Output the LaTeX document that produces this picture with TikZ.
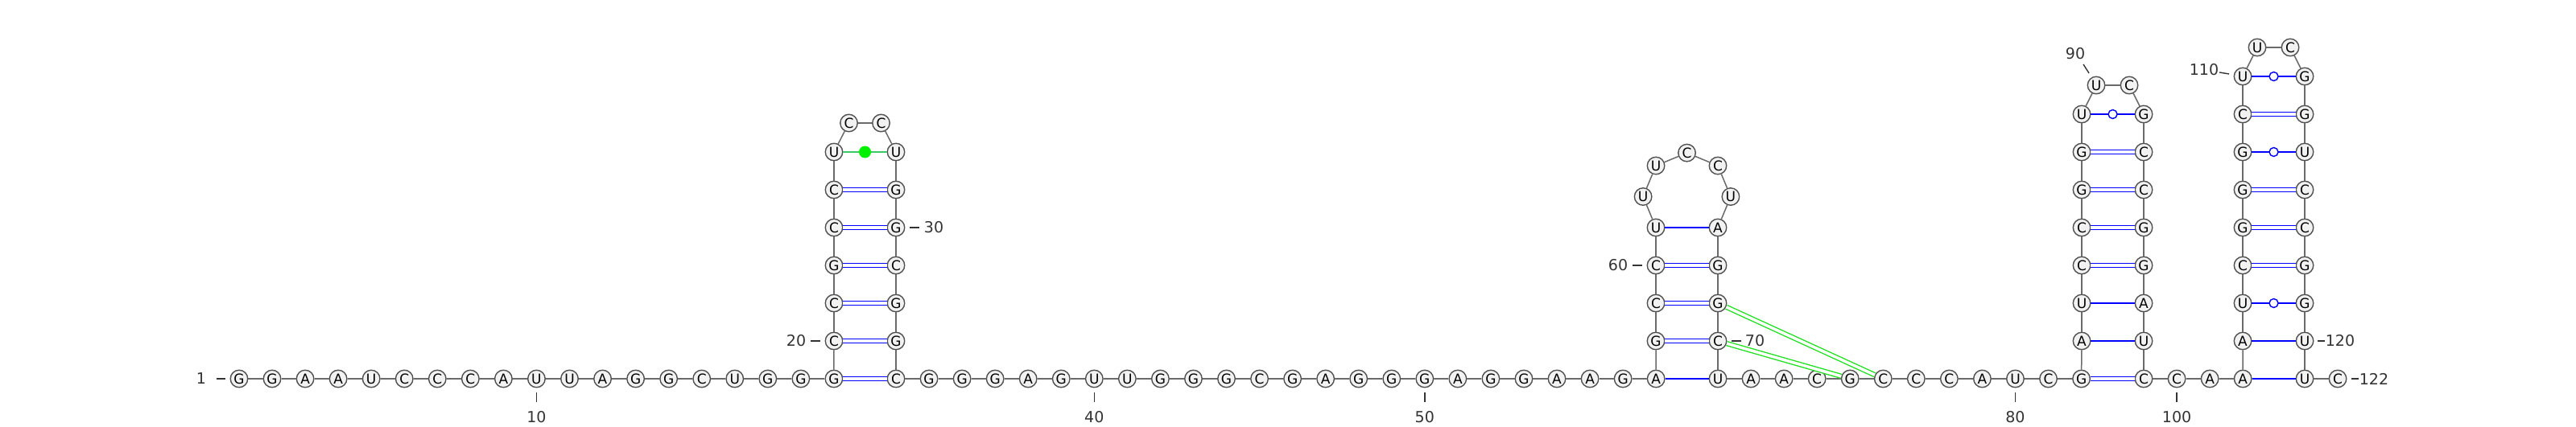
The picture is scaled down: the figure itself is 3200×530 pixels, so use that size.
\documentclass[tikz,border=0pt]{standalone}
\usepackage{fontspec}
\setmainfont{DejaVu Sans}
\usepackage{xcolor}
\usepackage{tikz}
\usetikzlibrary{calc}
\definecolor{ntfill}{HTML}{F2F2F2}
\definecolor{ntline}{HTML}{505050}
\definecolor{backbone}{HTML}{6A6A6A}
\definecolor{pairblue}{HTML}{0000FF}
\definecolor{pkgreen}{HTML}{22E022}
\definecolor{ncgreen}{HTML}{3CC864}
\definecolor{dotgreen}{HTML}{00F000}
\definecolor{numtext}{HTML}{333333}
\tikzset{
  nt/.style={circle, draw=ntline, fill=ntfill, line width=1.4pt, minimum size=21.5pt, inner sep=0pt, font=\fontsize{17}{17}\selectfont},
  bb/.style={draw=backbone, line width=1.5pt},
  wc/.style={draw=pairblue, line width=1.4pt},
  wcdbl/.style={draw=pairblue, line width=1.4pt, double=white, double distance=3.2pt},
  pk/.style={draw=pkgreen, line width=1.4pt, double=white, double distance=3.6pt},
  nc/.style={draw=ncgreen, line width=1.4pt},
  wob/.style={circle, draw=pairblue, fill=white, line width=1.4pt, minimum size=11pt, inner sep=0pt},
  ncdot/.style={circle, fill=dotgreen, minimum size=15pt, inner sep=0pt},
  num/.style={text=numtext, font=\fontsize{19}{19}\selectfont},
  tick/.style={draw=numtext, line width=1.4pt},
}

\begin{document}
\begin{tikzpicture}[x=1pt,y=-1pt]
  \useasboundingbox (0,0) rectangle (3200,530);

  % 5' end
  \foreach \b [count=\i] in {G,G,A,A,U,C,C,C,A,U,U,A,G,G,C,U,G,G,G}
    \node[nt] (n\i) at ({297+(\i-1)*41.05},471) {\b};

  % hairpin 1
  \foreach \b [count=\i from 20] in {C,C,G,C,C,U}
    \node[nt] (n\i) at (1036,{471-(\i-19)*47}) {\b};
  \node[nt] (n26) at (1054.5,153) {C};
  \node[nt] (n27) at (1094.5,153) {C};
  \foreach \b [count=\i from 28] in {U,G,G,C,G,G,C}
    \node[nt] (n\i) at (1113,{471-(34-\i)*47}) {\b};

  % linker 35-57
  \foreach \b [count=\i from 35] in {G,G,G,A,G,U,U,G,G,G,C,G,A,G,G,G,A,G,G,A,A,G,A}
    \node[nt] (n\i) at ({1113+(\i-34)*41.05},471) {\b};

  % hairpin 2
  \foreach \b [count=\i from 58] in {G,C,C,U}
    \node[nt] (n\i) at (2057,{471-(\i-57)*47}) {\b};
  \foreach \b/\a [count=\i from 62] in {U/180,U/135,C/90,C/45,U/0}
    \node[nt] (n\i) at ({2095.5+54.4*cos(\a)},{244.5-54.4*sin(\a)}) {\b};
  \foreach \b [count=\i from 67] in {A,G,G,C,U}
    \node[nt] (n\i) at (2134,{471-(71-\i)*47}) {\b};

  % linker 72-82
  \foreach \b [count=\i from 72] in {A,A,C,G,C,C,C,A,U,C,G}
    \node[nt] (n\i) at ({2134+(\i-71)*41.05},471) {\b};

  % hairpin 3
  \foreach \b [count=\i from 83] in {A,U,C,C,G,G,U}
    \node[nt] (n\i) at (2586,{471-(\i-82)*47}) {\b};
  \node[nt] (n90) at (2604,106) {U};
  \node[nt] (n91) at (2645,106) {C};
  \foreach \b [count=\i from 92] in {G,C,C,G,G,A,U,C}
    \node[nt] (n\i) at (2663,{471-(99-\i)*47}) {\b};

  % linker 100-102
  \foreach \b [count=\i from 100] in {C,A,A}
    \node[nt] (n\i) at ({2663+(\i-99)*41.05},471) {\b};

  % hairpin 4
  \foreach \b [count=\i from 103] in {A,U,C,G,G,G,C,U}
    \node[nt] (n\i) at (2786,{471-(\i-102)*47}) {\b};
  \node[nt] (n111) at (2804,59) {U};
  \node[nt] (n112) at (2845,59) {C};
  \foreach \b [count=\i from 113] in {G,G,U,C,C,G,G,U,U}
    \node[nt] (n\i) at (2863,{471-(121-\i)*47}) {\b};

  % 3' end
  \node[nt] (n122) at (2904,471) {C};

  % backbone
  \foreach \i [evaluate=\i as \j using int(\i+1)] in {1,...,121}
    \draw[bb] (n\i) -- (n\j);

  % base pairs
  \foreach \p/\q in {19/34,20/33,21/32,22/31,23/30,24/29,58/70,59/69,60/68,
      82/99,85/96,86/95,87/94,88/93,105/118,106/117,107/116,109/114}
    \draw[wcdbl] (n\p) -- (n\q);
  \foreach \p/\q in {57/71,61/67,83/98,84/97,102/121,103/120}
    \draw[wc] (n\p) -- (n\q);
  \foreach \p/\q in {89/92,104/119,108/115,110/113}
    \draw[wc] (n\p) -- node[wob] {} (n\q);
  \draw[nc] (n25) -- node[ncdot] {} (n28);

  % pseudoknot
  \draw[pk] (n69) -- (n76);
  \draw[pk] (n70) -- (n75);

  % numbering
  \node[num] (l1) at (250,471) {1};
  \draw[tick] ([xshift=-6pt]n1.west) -- ++(-11,0);
  \foreach \i in {10,40,50,80,100} {
    \node[num] (l\i) at ($(n\i)+(0,48)$) {\i};
    \draw[tick] ([yshift=-6pt]n\i.south) -- ++(0,12);
  }
  \node[num] (l20) at (989,424) {20};
  \draw[tick] ([xshift=-6pt]n20.west) -- ++(-12,0);
  \node[num] (l60) at (2010,330) {60};
  \draw[tick] ([xshift=-6pt]n60.west) -- ++(-12,0);
  \node[num] (l30) at (1160,283) {30};
  \draw[tick] ([xshift=6pt]n30.east) -- ++(12,0);
  \node[num] (l70) at (2180,424) {70};
  \draw[tick] ([xshift=6pt]n70.east) -- ++(12,0);
  \node[num] (l120) at (2907,424) {120};
  \draw[tick] ([xshift=5pt]n120.east) -- ++(9,0);
  \node[num] (l122) at (2949,471) {122};
  \draw[tick] ([xshift=6pt]n122.east) -- ++(9,0);
  \node[num] (l90) at (2578,67) {90};
  \draw[tick] ($(n90)+(-9,-15)$) -- ++(-7,-11);
  \node[num] (l110) at (2738,87) {110};
  \draw[tick] ($(n110)+(-17,-3)$) -- ++(-12,-2);

\end{tikzpicture}
\end{document}
